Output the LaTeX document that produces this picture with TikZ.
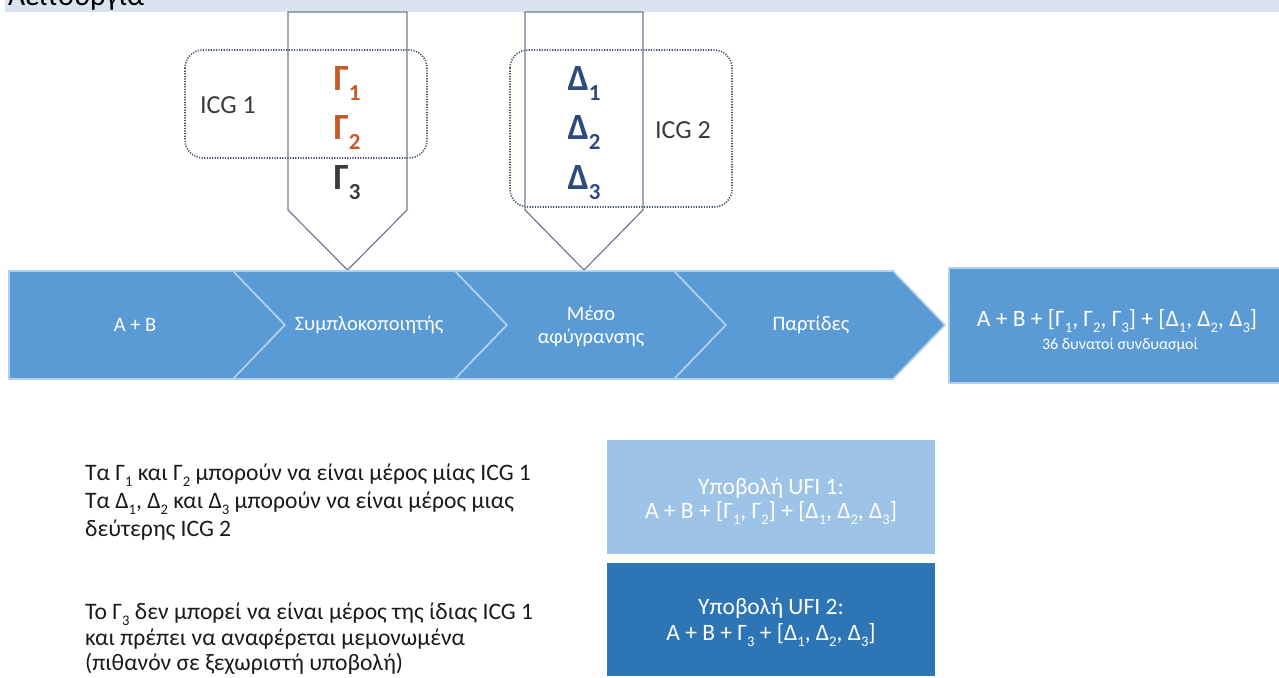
\documentclass[tikz,border=0pt]{standalone}
\usepackage{fontspec}
\setmainfont{Carlito}

\definecolor{band}{HTML}{DAE3F0}
\definecolor{flow}{HTML}{5B9BD5}
\definecolor{flowedge}{HTML}{B4D0EC}
\definecolor{pillar}{HTML}{6B7B93}
\definecolor{icg}{HTML}{44546A}
\definecolor{gam}{HTML}{C55A28}
\definecolor{gamdark}{HTML}{3B3B3B}
\definecolor{delt}{HTML}{2F4A7C}
\definecolor{ufiA}{HTML}{9DC3E6}
\definecolor{ufiB}{HTML}{2E75B6}
\definecolor{bodytext}{HTML}{1A1A1A}

% lowered, reduced index digit
\newcommand\dn[1]{\raisebox{-0.28em}{\scalebox{0.62}{#1}}}

\tikzset{
  chev/.style={fill=flow, draw=flowedge, line width=1.6pt, line join=miter},
  flowlabel/.style={text=white, font=\fontsize{20.5}{23}\selectfont, align=center, inner sep=0pt},
  pillarshape/.style={draw=pillar, line width=1.2pt, line join=miter},
  icgbox/.style={draw=icg, line width=1.6pt, dash pattern=on 1.2pt off 1.4pt, rounded corners=18pt},
  icglabel/.style={text=gamdark, font=\fontsize{26}{30}\selectfont, inner sep=0pt},
  glyph/.style={font=\fontsize{37}{40}\selectfont\bfseries, inner sep=0pt, anchor=base},
  bodyline/.style={text=bodytext, font=\fontsize{23.6}{27}\selectfont, inner sep=0pt, anchor=base west},
  whiteline/.style={text=white, font=\fontsize{23.5}{26}\selectfont, inner sep=0pt, anchor=base},
}

\begin{document}
\begin{tikzpicture}[x=1pt, y=-1pt]
\useasboundingbox (0,0) rectangle (1279,677);

% heading band
\fill[band] (5,0) rectangle (1279,12);
\node[font=\fontsize{30}{34}\selectfont, text=black, inner sep=0pt, anchor=base west] (title) at (8,6) {Λειτουργία};

% group outlines
\draw[icgbox] (185,50) rectangle (427,158);
\draw[icgbox] (510,50) rectangle (732,207);

% input pillars
\draw[pillarshape] (288,12) -- (288,210) -- (347.5,270) -- (407,210) -- (407,12) -- cycle;
\draw[pillarshape] (525,12) -- (525,210) -- (584,270) -- (643,210) -- (643,12) -- cycle;

\node[icglabel] (icg1) at (228,105) {ICG 1};
\node[icglabel] (icg2) at (683,130) {ICG 2};

\node[glyph, text=gam]     (g1) at (347,90)  {Γ\dn{1}};
\node[glyph, text=gam]     (g2) at (347,139.5) {Γ\dn{2}};
\node[glyph, text=gamdark] (g3) at (347,189) {Γ\dn{3}};
\node[glyph, text=delt]    (d1) at (584,90)  {Δ\dn{1}};
\node[glyph, text=delt]    (d2) at (584,139.5) {Δ\dn{2}};
\node[glyph, text=delt]    (d3) at (584,189) {Δ\dn{3}};

% process chevrons
\path[chev] (9,271) -- (233,271) -- (285,325) -- (233,379) -- (9,379) -- cycle;
\path[chev] (233,271) -- (455,271) -- (507,325) -- (455,379) -- (233,379) -- (285,325) -- cycle;
\path[chev] (455,271) -- (674,271) -- (726,325) -- (674,379) -- (455,379) -- (507,325) -- cycle;
\path[chev] (674,271) -- (893,271) -- (945,325) -- (893,379) -- (674,379) -- (726,325) -- cycle;

\node[flowlabel] (s1) at (135,325) {A + B};
\node[flowlabel] (s2) at (369,325) {Συμπλοκοποιητής};
\node[flowlabel] (s3) at (591,326) {Μέσο\\αφύγρανσης};
\node[flowlabel] (s4) at (811,325) {Παρτίδες};

% result
\path[chev] (949,268) rectangle (1280,383);
\node[whiteline] (res) at (1117,326)
  {A + B + [Γ\dn{1}, Γ\dn{2}, Γ\dn{3}] + [Δ\dn{1}, Δ\dn{2}, Δ\dn{3}]};
\node[whiteline, font=\fontsize{16}{18}\selectfont] (rescount) at (1120,349) {36 δυνατοί συνδυασμοί};

% submissions
\fill[ufiA] (607,440) rectangle (935,554);
\fill[ufiB] (607,563) rectangle (935,676);
\node[whiteline] (u1a) at (771,494) {Υποβολή UFI 1:};
\node[whiteline] (u1b) at (771,518) {A + B + [Γ\dn{1}, Γ\dn{2}] + [Δ\dn{1}, Δ\dn{2}, Δ\dn{3}]};
\node[whiteline] (u2a) at (771,614) {Υποβολή UFI 2:};
\node[whiteline] (u2b) at (771,640) {A + B + Γ\dn{3} + [Δ\dn{1}, Δ\dn{2}, Δ\dn{3}]};

% notes
\node[bodyline] (n1) at (85,480) {Τα Γ\dn{1} και Γ\dn{2} μπορούν να είναι μέρος μίας ICG 1};
\node[bodyline] (n2) at (85,508) {Τα Δ\dn{1}, Δ\dn{2} και Δ\dn{3} μπορούν να είναι μέρος μιας};
\node[bodyline] (n3) at (85,536) {δεύτερης ICG 2};
\node[bodyline] (n4) at (85,619) {Το Γ\dn{3} δεν μπορεί να είναι μέρος της ίδιας ICG 1};
\node[bodyline] (n5) at (85,645) {και πρέπει να αναφέρεται μεμονωμένα};
\node[bodyline] (n6) at (85,670) {(πιθανόν σε ξεχωριστή υποβολή)};
\end{tikzpicture}
\end{document}
